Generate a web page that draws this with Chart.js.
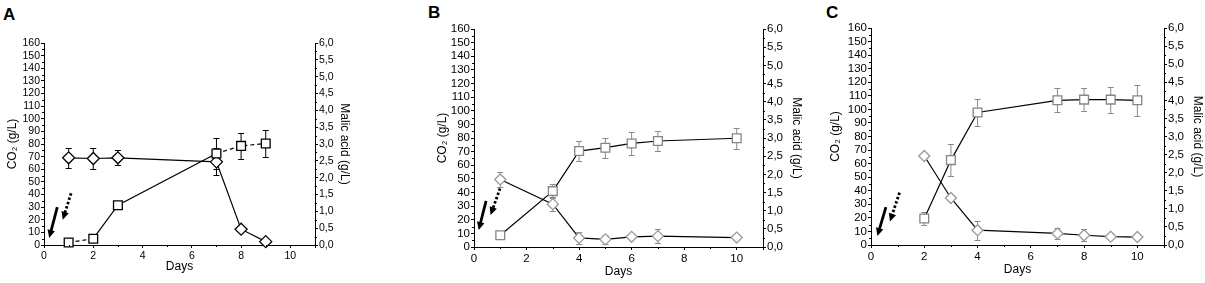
<!DOCTYPE html>
<html>
<head>
<meta charset="utf-8">
<script src="https://cdn.jsdelivr.net/npm/chart.js@4.4.0/dist/chart.umd.min.js"></script>
<style>
    body { margin: 0; width: 1205px; height: 283px; background: #fff; position: relative; overflow: hidden;
           font-family: "Liberation Sans", Arial, sans-serif; }
    canvas { position: absolute; top: 0; }
    .tag { position: absolute; font-weight: bold; font-size: 17px; color: #000; line-height: 1; }
</style>
</head>
<body>
<div class="tag" style="left:3px;top:6px">A</div>
<div class="tag" style="left:428px;top:4px">B</div>
<div class="tag" style="left:826px;top:4px">C</div>
<canvas id="chartA" width="400" height="283" style="left:0px"></canvas>
<canvas id="chartB" width="410" height="283" style="left:395px"></canvas>
<canvas id="chartC" width="400" height="283" style="left:805px"></canvas>
<script>
/* ==========================================================================
   Data
   ========================================================================== */

// shared axis labels
const dayTickLabels = ['0', '2', '4', '6', '8', '10'];
const co2TickLabels = ['0', '10', '20', '30', '40', '50', '60', '70', '80', '90', '100',
                       '110', '120', '130', '140', '150', '160'];
const malicTickLabels = ['0,0', '0,5', '1,0', '1,5', '2,0', '2,5', '3,0',
                         '3,5', '4,0', '4,5', '5,0', '5,5', '6,0'];

// panel A
const daysA = [1, 2, 3, 7, 8, 9];
const co2A = [2, 5, 31.5, 72.5, 78.5, 80.4];
const co2ErrA = [1.5, 2, 0, 12, 10.4, 10.8];
const malicA = [2.59, 2.57, 2.59, 2.47, 0.47, 0.1];
const malicErrA = [0.29, 0.3, 0.22, 0.4, 0, 0];
const solidArrowA = [[0.54, 30], [0.21, 5.5]];
const dottedArrowA = [[1.1, 41], [0.76, 20]];

// panel B
const daysB = [1, 3, 4, 5, 6, 7, 10];
const co2B = [8.6, 41, 70.4, 72.9, 76, 77.8, 79.8];
const co2ErrB = [1, 5, 7.5, 7.4, 8.3, 7, 7.6];
const malicB = [1.86, 1.18, 0.25, 0.21, 0.28, 0.3, 0.26];
const malicErrB = [0.2, 0.19, 0.16, 0.13, 0.06, 0.2, 0];
const solidArrowB = [[0.46, 33.8], [0.18, 12.5]];
const dottedArrowB = [[0.99, 43], [0.63, 23.5]];

// panel C
const daysC = [2, 3, 4, 7, 8, 9, 10];
const co2C = [19.6, 62.6, 97.7, 106.7, 107.2, 107.2, 106.7];
const co2ErrC = [4.5, 11.7, 10, 9, 8.3, 9.6, 11.3];
const malicC = [2.46, 1.3, 0.41, 0.32, 0.27, 0.23, 0.22];
const malicErrC = [0, 0.05, 0.26, 0.16, 0.17, 0, 0];
const solidArrowC = [[0.56, 28], [0.24, 6.6]];
const dottedArrowC = [[1.07, 38.6], [0.71, 17.3]];

/* ==========================================================================
   Plugins
   ========================================================================== */

// vertical error bars with caps, drawn under the markers
const errorBars = {
    id: 'errorBars',
    beforeDatasetsDraw(chart) {
        const ctx = chart.ctx;
        chart.data.datasets.forEach((ds, i) => {
            const meta = chart.getDatasetMeta(i);
            const ys = chart.scales[ds.yAxisID];
            ctx.save();
            ctx.strokeStyle = ds.errorColor;
            ctx.lineWidth = 1;
            ds.data.forEach((pt, j) => {
                const e = ds.errors[j];
                if (!e) return;
                const x = meta.data[j].x;
                const top = Math.round(ys.getPixelForValue(pt.y + e)) + 0.5;
                const bot = Math.round(ys.getPixelForValue(pt.y - e)) + 0.5;
                ctx.beginPath();
                ctx.moveTo(x, top); ctx.lineTo(x, bot);
                ctx.moveTo(x - 3, top); ctx.lineTo(x + 3, top);
                ctx.moveTo(x - 3, bot); ctx.lineTo(x + 3, bot);
                ctx.stroke();
            });
            ctx.restore();
        });
    }
};

// small outward ticks between the labelled ones
const minorTicks = {
    id: 'minorTicks',
    afterDraw(chart) {
        const ctx = chart.ctx;
        ctx.save();
        ctx.strokeStyle = '#000';
        ctx.lineWidth = 1;
        ctx.beginPath();
        Object.values(chart.scales).forEach(s => {
            const step = s.options.minorStep;
            if (!step) return;
            for (let v = s.min + step; v < s.max; v += 2 * step) {
                const p = Math.round(s.getPixelForValue(v)) + 0.5;
                if (s.position === 'bottom') { ctx.moveTo(p, s.top); ctx.lineTo(p, s.top + 2); }
                else if (s.position === 'left') { ctx.moveTo(s.right, p); ctx.lineTo(s.right - 2, p); }
                else { ctx.moveTo(s.left, p); ctx.lineTo(s.left + 2, p); }
            }
        });
        ctx.stroke();
        ctx.restore();
    }
};

// the two black arrows near day 0
const arrows = {
    id: 'arrows',
    afterDatasetsDraw(chart, args, opts) {
        const ctx = chart.ctx;
        const xs = chart.scales.x, ys = chart.scales.y;
        (opts.items || []).forEach(a => {
            const x0 = xs.getPixelForValue(a.from[0]), y0 = ys.getPixelForValue(a.from[1]);
            const x1 = xs.getPixelForValue(a.to[0]), y1 = ys.getPixelForValue(a.to[1]);
            const ang = Math.atan2(y1 - y0, x1 - x0);
            const head = 8;
            ctx.save();
            ctx.strokeStyle = '#000';
            ctx.fillStyle = '#000';
            ctx.lineWidth = 2.8;
            ctx.setLineDash(a.dotted ? [2.5, 2] : []);
            ctx.beginPath();
            ctx.moveTo(x0, y0);
            ctx.lineTo(x1 - Math.cos(ang) * head * 0.8, y1 - Math.sin(ang) * head * 0.8);
            ctx.stroke();
            ctx.setLineDash([]);
            ctx.beginPath();
            ctx.moveTo(x1, y1);
            ctx.lineTo(x1 - head * Math.cos(ang) + 3.8 * Math.sin(ang), y1 - head * Math.sin(ang) - 3.8 * Math.cos(ang));
            ctx.lineTo(x1 - head * Math.cos(ang) - 3.8 * Math.sin(ang), y1 - head * Math.sin(ang) + 3.8 * Math.cos(ang));
            ctx.closePath();
            ctx.fill();
            ctx.restore();
        });
    }
};

/* ==========================================================================
   Build one panel
   ========================================================================== */

function points(days, values) {
    return days.map((d, i) => ({ x: d, y: values[i] }));
}

function makePanel(canvasId, p) {
    const ctx = document.getElementById(canvasId).getContext('2d');
    const tickFont = { family: "'Liberation Sans', Arial, sans-serif", size: p.tickSize };
    const titleFont = { family: "'Liberation Sans', Arial, sans-serif", size: 12 };

    return new Chart(ctx, {
        type: 'line',
        data: {
            datasets: [{
                label: 'CO2',
                data: points(p.days, p.co2),
                errors: p.co2Err,
                errorColor: p.errColor,
                yAxisID: 'y',
                borderColor: '#000',
                borderWidth: 1.2,
                pointStyle: 'rect',
                pointRadius: 6.2,
                pointBorderColor: p.squareColor,
                pointBackgroundColor: '#fff',
                pointBorderWidth: 1.3,
                tension: 0,
                clip: false,
                segment: { borderDash: c => (p.dashed || []).includes(c.p0DataIndex) ? [4, 3] : undefined }
            }, {
                label: 'Malic acid',
                data: points(p.days, p.malic),
                errors: p.malicErr,
                errorColor: p.errColor,
                yAxisID: 'y1',
                borderColor: '#000',
                borderWidth: 1.2,
                pointStyle: 'rectRot',
                pointRadius: p.diamondRadius,
                pointBorderColor: p.diamondColor,
                pointBackgroundColor: '#fff',
                pointBorderWidth: 1.3,
                tension: 0,
                clip: false
            }]
        },
        options: {
            responsive: false,
            animation: false,
            events: [],
            layout: { padding: p.padding },
            plugins: {
                legend: { display: false },
                tooltip: { enabled: false },
                arrows: { items: p.arrows }
            },
            scales: {
                x: {
                    type: 'linear',
                    min: 0,
                    max: 11,
                    minorStep: 1,
                    border: { color: '#000', width: 1 },
                    grid: { drawOnChartArea: false, color: '#000', tickLength: 3 },
                    ticks: {
                        stepSize: 2, padding: 2, color: '#000', font: tickFont, maxRotation: 0, autoSkip: false,
                        callback: (v, i) => dayTickLabels[i] ?? ''
                    },
                    title: { display: true, text: 'Days', color: '#000', font: titleFont, padding: 0 },
                    afterFit: s => { s.height = p.xHeight; }
                },
                y: {
                    position: 'left',
                    min: 0,
                    max: 160,
                    minorStep: 5,
                    border: { color: '#000', width: 1 },
                    grid: { drawOnChartArea: false, color: '#000', tickLength: 3 },
                    ticks: {
                        stepSize: 10, padding: 1, color: '#000', font: tickFont, autoSkip: false,
                        callback: (v, i) => co2TickLabels[i]
                    },
                    title: { display: true, text: 'CO₂ (g/L)', color: '#000', font: titleFont, padding: 0 },
                    afterFit: s => { s.width = p.yWidth; }
                },
                y1: {
                    position: 'right',
                    min: 0,
                    max: 6,
                    minorStep: 0.25,
                    border: { color: '#000', width: 1 },
                    grid: { drawOnChartArea: false, color: '#000', tickLength: 3 },
                    ticks: {
                        stepSize: 0.5, padding: 1, color: '#000', font: tickFont, autoSkip: false,
                        callback: (v, i) => malicTickLabels[i]
                    },
                    title: { display: true, text: 'Malic acid (g/L)', color: '#000', font: titleFont, padding: 0 },
                    afterFit: s => { s.width = p.y1Width; }
                }
            }
        },
        plugins: [errorBars, minorTicks, arrows]
    });
}

makePanel('chartA', {
    days: daysA, co2: co2A, co2Err: co2ErrA, malic: malicA, malicErr: malicErrA,
    arrows: [{ from: solidArrowA[0], to: solidArrowA[1] }, { from: dottedArrowA[0], to: dottedArrowA[1], dotted: true }],
    squareColor: '#000', diamondColor: '#000', errColor: '#000',
    dashed: [0, 3, 4],
    tickSize: 10.5, diamondRadius: 6,
    padding: { left: 5, right: 48, top: 43, bottom: 9 },
    yWidth: 39, y1Width: 37, xHeight: 29
});

makePanel('chartB', {
    days: daysB, co2: co2B, co2Err: co2ErrB, malic: malicB, malicErr: malicErrB,
    arrows: [{ from: solidArrowB[0], to: solidArrowB[1] }, { from: dottedArrowB[0], to: dottedArrowB[1], dotted: true }],
    squareColor: '#858585', diamondColor: '#9a9a9a', errColor: '#8a8a8a',
    tickSize: 11.5, diamondRadius: 5.5,
    padding: { left: 40, right: 1, top: 29, bottom: 4 },
    yWidth: 39, y1Width: 41, xHeight: 32
});

makePanel('chartC', {
    days: daysC, co2: co2C, co2Err: co2ErrC, malic: malicC, malicErr: malicErrC,
    arrows: [{ from: solidArrowC[0], to: solidArrowC[1] }, { from: dottedArrowC[0], to: dottedArrowC[1], dotted: true }],
    squareColor: '#858585', diamondColor: '#9a9a9a', errColor: '#8a8a8a',
    tickSize: 11.5, diamondRadius: 5.5,
    padding: { left: 23, right: 0, top: 28, bottom: 6 },
    yWidth: 43, y1Width: 41, xHeight: 32
});
</script>
</body>
</html>
